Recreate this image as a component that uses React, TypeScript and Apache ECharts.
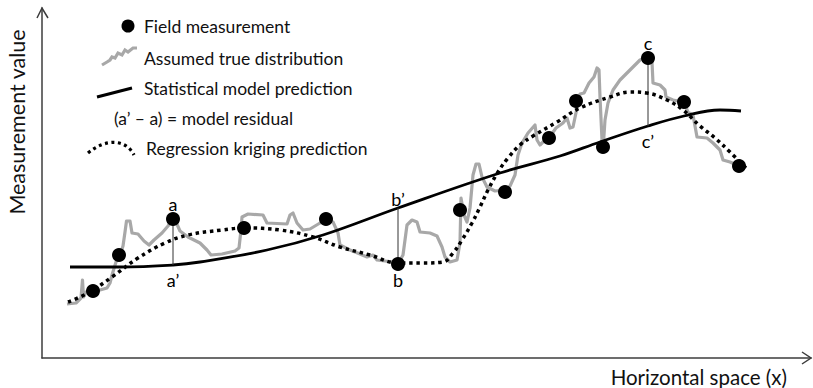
import React, { useEffect, useRef } from "react";
import * as echarts from "echarts";

// Field measurements (sampled locations)
const fieldX = [51, 77, 131, 202, 284, 356, 418, 463, 507, 534, 561, 606, 642, 697];
const fieldY = [67, 103, 139, 130, 139, 94, 148, 166, 220, 257, 211, 300, 256, 192];

// Assumed true distribution (jagged surface)
const trueX = [
  25, 34, 39, 40.5, 41.5, 44, 50, 58, 65, 68, 70, 74, 78, 81, 83, 84.5, 88, 90, 96, 102,
  107, 112, 120, 126, 130, 134, 138, 146, 158, 165, 169, 180, 193, 197, 199, 200, 206, 221,
  225, 245, 248, 251, 255, 261, 268, 278, 284, 291, 296, 298, 308, 318, 325, 331, 335, 351,
  356, 361, 365, 370, 375, 378, 388, 395, 400, 403, 408, 415, 418, 419, 422, 425, 428, 431,
  434, 437, 440, 445, 453, 463, 468, 473, 476, 480, 486, 493, 495, 498, 503, 507, 514, 521,
  525, 528, 531, 535, 538, 542, 547, 552, 555, 557, 558, 560, 561.5, 563, 566, 571, 578,
  585, 591, 598, 605, 610, 611, 618, 623, 624, 631, 642, 646, 651, 655, 665, 671, 678, 681,
  688, 697,
];
const trueY = [
  54, 55, 60, 78, 61, 66, 68, 68, 70, 75, 83, 96, 103, 112, 126, 137, 137, 125, 124, 117,
  113, 118, 125, 132, 138, 136, 127, 121, 115, 108, 103, 104, 107, 110, 128, 141, 144, 143,
  135, 134, 143, 145, 135, 128, 129, 135, 138, 136, 125, 113, 108, 104, 101, 103, 98, 96,
  94, 103, 133, 138, 136, 126, 125, 122, 111, 101, 96, 98, 115, 160, 143, 136, 150, 183,
  194, 194, 181, 171, 167, 168, 172, 183, 203, 215, 225, 233, 218, 213, 218, 220, 230, 235,
  240, 230, 231, 250, 264, 265, 275, 281, 290, 288, 261, 218, 215, 238, 255, 268, 278,
  285, 291, 298, 301, 296, 275, 273, 268, 261, 258, 256, 246, 243, 221, 220, 215, 208, 198,
  196, 192,
];

// Statistical model prediction (trend)
const modelX = [28, 78, 131, 158, 225, 281, 356, 458, 518, 558, 606, 642, 678, 699];
const modelY = [91, 91, 93, 96, 108, 123, 150, 185, 202, 216, 232, 242, 248, 247];

// Regression kriging prediction
const krigX = [
  26, 46, 70, 96, 123, 146, 180, 202, 238, 271, 298, 328, 356, 380, 401, 411, 420, 430, 438,
  446, 456, 466, 478, 491, 515, 538, 568, 588, 605, 625, 641, 658, 673, 688, 706,
];
const krigY = [
  56, 65, 81, 100, 115, 123, 128, 130, 128, 121, 111, 103, 95, 95, 96, 105, 118, 135, 151,
  168, 186, 200, 213, 222, 236, 250, 261, 266, 265, 258, 248, 232, 220, 206, 188,
];

// Residual annotations: measured point name, and where the label goes
const residualNames = ["a", "b", "c"];
const residualFieldIdx = [2, 5, 11];
const residualAbove = [true, false, true];

const zip = (xs: number[], ys: number[]) => xs.map((x, i) => [x, ys[i]]);

const FONT = "Lato, 'Open Sans', sans-serif";
const LEGEND_SIZE = 17.5;

export default function App() {
  const ref = useRef<HTMLDivElement>(null);

  useEffect(() => {
    if (!ref.current) return;
    document.body.style.margin = "0";
    const chart = echarts.init(ref.current, null, { renderer: "svg" });

    const residuals = residualNames.map((name, k) => {
      const x = fieldX[residualFieldIdx[k]];
      const yField = fieldY[residualFieldIdx[k]];
      const yModel = modelY[modelX.indexOf(x)];
      return { name, x, yField, yModel, above: residualAbove[k] };
    });

    const labelStyle = { color: "#000", fontSize: 18, fontFamily: FONT, opacity: 1 };

    const fieldData = fieldX.map((x, i) => {
      const r = residuals.find((d) => d.x === x && d.yField === fieldY[i]);
      if (!r) return [x, fieldY[i]];
      return {
        value: [x, fieldY[i]],
        label: {
          show: true,
          formatter: r.name,
          position: r.above ? "top" : "bottom",
          distance: r.above ? -1 : 0,
          ...labelStyle,
        },
      };
    });

    const modelLabelData = residuals.map((r) => ({
      value: [r.x, r.yModel],
      label: {
        show: true,
        formatter: r.name + "\u2019",
        position: r.above ? "bottom" : "top",
        distance: r.above ? 5 : 0,
        ...labelStyle,
      },
    }));

    const axisCommon = {
      type: "value" as const,
      axisLine: { show: true, lineStyle: { color: "#3c3c3c", width: 1.5 } },
      axisTick: { show: false },
      axisLabel: { show: false },
      splitLine: { show: false },
    };

    const legendText = (text: string, x: number, y: number) => ({
      type: "text",
      x,
      y,
      style: { text, fontSize: LEGEND_SIZE, fontFamily: FONT, fill: "#111", verticalAlign: "middle" },
    });

    chart.setOption({
      animation: false,
      grid: { left: 42, top: 8, width: 769, height: 350 },
      xAxis: { ...axisCommon, min: 0, max: 769 },
      yAxis: { ...axisCommon, min: 0, max: 350 },
      series: [
        {
          name: "Assumed true distribution",
          type: "line",
          data: zip(trueX, trueY),
          showSymbol: false,
          lineStyle: { color: "#a8a8a8", width: 3.2, join: "round" },
          z: 1,
        },
        {
          name: "Statistical model prediction",
          type: "line",
          data: zip(modelX, modelY),
          smooth: 0.4,
          showSymbol: false,
          lineStyle: { color: "#000", width: 2.8 },
          z: 2,
        },
        {
          name: "Regression kriging prediction",
          type: "line",
          data: zip(krigX, krigY),
          smooth: 0.4,
          showSymbol: false,
          lineStyle: { color: "#000", width: 3.5, type: [3.5, 3.8] },
          z: 3,
        },
        ...residuals.map((r) => ({
          name: "residual " + r.name,
          type: "line",
          data: [
            [r.x, r.yField],
            [r.x, r.yModel],
          ],
          showSymbol: false,
          lineStyle: { color: "#333", width: 1 },
          z: 2,
        })),
        {
          name: "Field measurement",
          type: "scatter",
          data: fieldData,
          symbolSize: 14,
          itemStyle: { color: "#000", opacity: 1 },
          z: 5,
        },
        {
          name: "model labels",
          type: "scatter",
          data: modelLabelData,
          symbolSize: 1,
          itemStyle: { color: "rgba(0,0,0,0)", opacity: 1 },
          z: 5,
        },
      ],
      graphic: [
        // axis arrow heads
        {
          type: "polyline",
          shape: { points: [[802, 352], [811, 358], [802, 364]] },
          style: { stroke: "#3c3c3c", lineWidth: 1.5, fill: "none" },
        },
        {
          type: "polyline",
          shape: { points: [[37, 18], [42, 8], [48, 18]] },
          style: { stroke: "#3c3c3c", lineWidth: 1.5, fill: "none" },
        },
        // axis titles
        {
          type: "text",
          x: 17,
          y: 122,
          rotation: Math.PI / 2,
          style: {
            text: "Measurement value",
            fontSize: 21.5,
            fontFamily: FONT,
            fill: "#111",
            align: "center",
            verticalAlign: "middle",
          },
        },
        {
          type: "text",
          x: 787,
          y: 377,
          style: {
            text: "Horizontal space (x)",
            fontSize: 20.5,
            fontFamily: FONT,
            fill: "#111",
            align: "right",
            verticalAlign: "middle",
          },
        },
        // legend
        {
          type: "circle",
          shape: { cx: 128, cy: 26, r: 6.5 },
          style: { fill: "#000" },
        },
        legendText("Field measurement", 144, 26),
        {
          type: "polyline",
          shape: {
            points: [
              [102, 65], [107, 62], [110, 60], [112, 57], [115, 58], [118, 53],
              [122, 55], [125, 50], [128, 52], [133, 48], [137, 48],
            ],
          },
          style: { stroke: "#a8a8a8", lineWidth: 3.2, fill: "none" },
        },
        legendText("Assumed true distribution", 144, 58),
        {
          type: "line",
          shape: { x1: 97, y1: 97, x2: 132, y2: 88 },
          style: { stroke: "#000", lineWidth: 3 },
        },
        legendText("Statistical model prediction", 144, 88),
        legendText("(a\u2019 \u2013 a) = model residual", 114, 118),
        {
          type: "bezierCurve",
          shape: { x1: 88, y1: 153, cpx1: 106, cpy1: 138, cpx2: 126, cpy2: 139, x2: 134, y2: 155 },
          style: { stroke: "#000", lineWidth: 3.2, lineDash: [3, 3.5], fill: "none" },
        },
        legendText("Regression kriging prediction", 146, 148),
      ],
    });

    return () => chart.dispose();
  }, []);

  return <div ref={ref} style={{ width: 813, height: 388 }} />;
}
